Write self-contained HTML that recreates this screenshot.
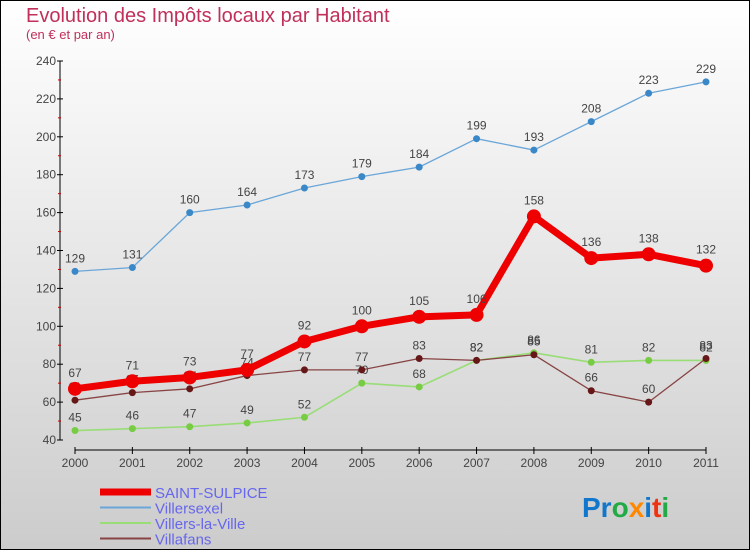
<!DOCTYPE html>
<html><head><meta charset="utf-8"><style>
html,body{margin:0;padding:0}
body{width:750px;height:550px;overflow:hidden;font-family:"Liberation Sans",sans-serif}
svg{display:block}
</style></head><body>
<svg id="c" width="750" height="550" xmlns="http://www.w3.org/2000/svg">
<defs><linearGradient id="bg" x1="0" y1="0" x2="0" y2="1"><stop offset="0" stop-color="#ffffff"/><stop offset="1" stop-color="#cccccc"/></linearGradient></defs>
<rect x="0.5" y="0.5" width="749" height="549" fill="url(#bg)" stroke="#000"/>
<text x="26" y="22" font-size="20" fill="#c0305a">Evolution des Impôts locaux par Habitant</text>
<text x="26" y="39" font-size="13" fill="#c0305a">(en € et par an)</text>
<g id="axes"></g><g id="series"></g><g id="legend"></g>
<text x="582" y="517" font-size="28" font-weight="bold" fill="#1177cc">Pr<tspan fill="#22aa44">o</tspan><tspan fill="#ff8800">x</tspan><tspan fill="#1177cc">i</tspan><tspan fill="#ee3311">t</tspan><tspan fill="#22aa44">i</tspan></text>
</svg>
<script>
const years=[2000,2001,2002,2003,2004,2005,2006,2007,2008,2009,2010,2011];
const yTicks=[40,60,80,100,120,140,160,180,200,220,240];
const saintSulpice=[67,71,73,77,92,100,105,106,158,136,138,132];
const villersexel=[129,131,160,164,173,179,184,199,193,208,223,229];
const villersLaVille=[45,46,47,49,52,70,68,82,86,81,82,82];
const villafans=[61,65,67,74,77,77,83,82,85,66,60,83];
const NS="http://www.w3.org/2000/svg";
const X=i=>75+i*(631/11);
const Y=v=>440-(v-40)*(379/200);
function mk(tag,attrs,parent,txt){const e=document.createElementNS(NS,tag);for(const k in attrs)e.setAttribute(k,attrs[k]);if(txt!==undefined)e.textContent=txt;parent.appendChild(e);return e;}
const ax=document.getElementById('axes');
let e=mk('line',{x1:60,y1:61,x2:60,y2:440,stroke:'#000'},ax);


yTicks.forEach((t,i)=>{
  mk('line',{x1:57,y1:Y(t),x2:63,y2:Y(t),stroke:'#000'},ax);
  if(i<yTicks.length-1){mk('line',{x1:58,y1:Y(t+10),x2:61,y2:Y(t+10),stroke:'#c00'},ax);}
  const l=mk('text',{x:56,y:Y(t)+4,'font-size':12,fill:'#444','text-anchor':'end'},ax,t);
  
  
});
e=mk('line',{x1:75,y1:450,x2:706,y2:450,stroke:'#000'},ax);


years.forEach((y,i)=>{
  mk('line',{x1:X(i),y1:447,x2:X(i),y2:454,stroke:'#000'},ax);
  const l=mk('text',{x:X(i),y:467,'font-size':12,fill:'#444','text-anchor':'middle'},ax,y);
  
  
});
const sg=document.getElementById('series');
function series(vals,color,w,r,name,dot){
  const g=mk('g',{},sg);
  
  
  mk('polyline',{points:vals.map((v,i)=>X(i)+','+Y(v)).join(' '),fill:'none',stroke:color,'stroke-width':w,'stroke-linejoin':'round'},g);
  vals.forEach((v,i)=>{
    const c=mk('circle',{cx:X(i),cy:Y(v),r:r,fill:dot||color},g);
    
    
    const t=mk('text',{x:X(i),y:Y(v)-9-(r>4?3:0),'font-size':12,fill:'#444','text-anchor':'middle'},g,v);
    
    
  });
}
series(villersexel,'#6aa6d8',1.3,3.5,'villersexel-series','#3a88c8');
series(villersLaVille,'#99dd77',1.6,3.5,'villers-la-ville-series','#77cc44');
series(villafans,'#884444',1.3,3.5,'villafans-series','#661818');
series(saintSulpice,'#ee0000',7,7,'saint-sulpice-series');
const lg=document.getElementById('legend');
const items=[['SAINT-SULPICE','#ee0000',7],['Villersexel','#6aa6d8',2],['Villers-la-Ville','#99dd77',2],['Villafans','#884444',2]];
items.forEach((it,i)=>{
  const y=492+i*15.5;
  const g=mk('g',{},lg);
  
  
  mk('line',{x1:100,y1:y,x2:151,y2:y,stroke:it[1],'stroke-width':it[2]},g);
  mk('text',{x:155,y:y+6,'font-size':15,fill:'#6666ee'},g,it[0]);
});
</script>
</body></html>
